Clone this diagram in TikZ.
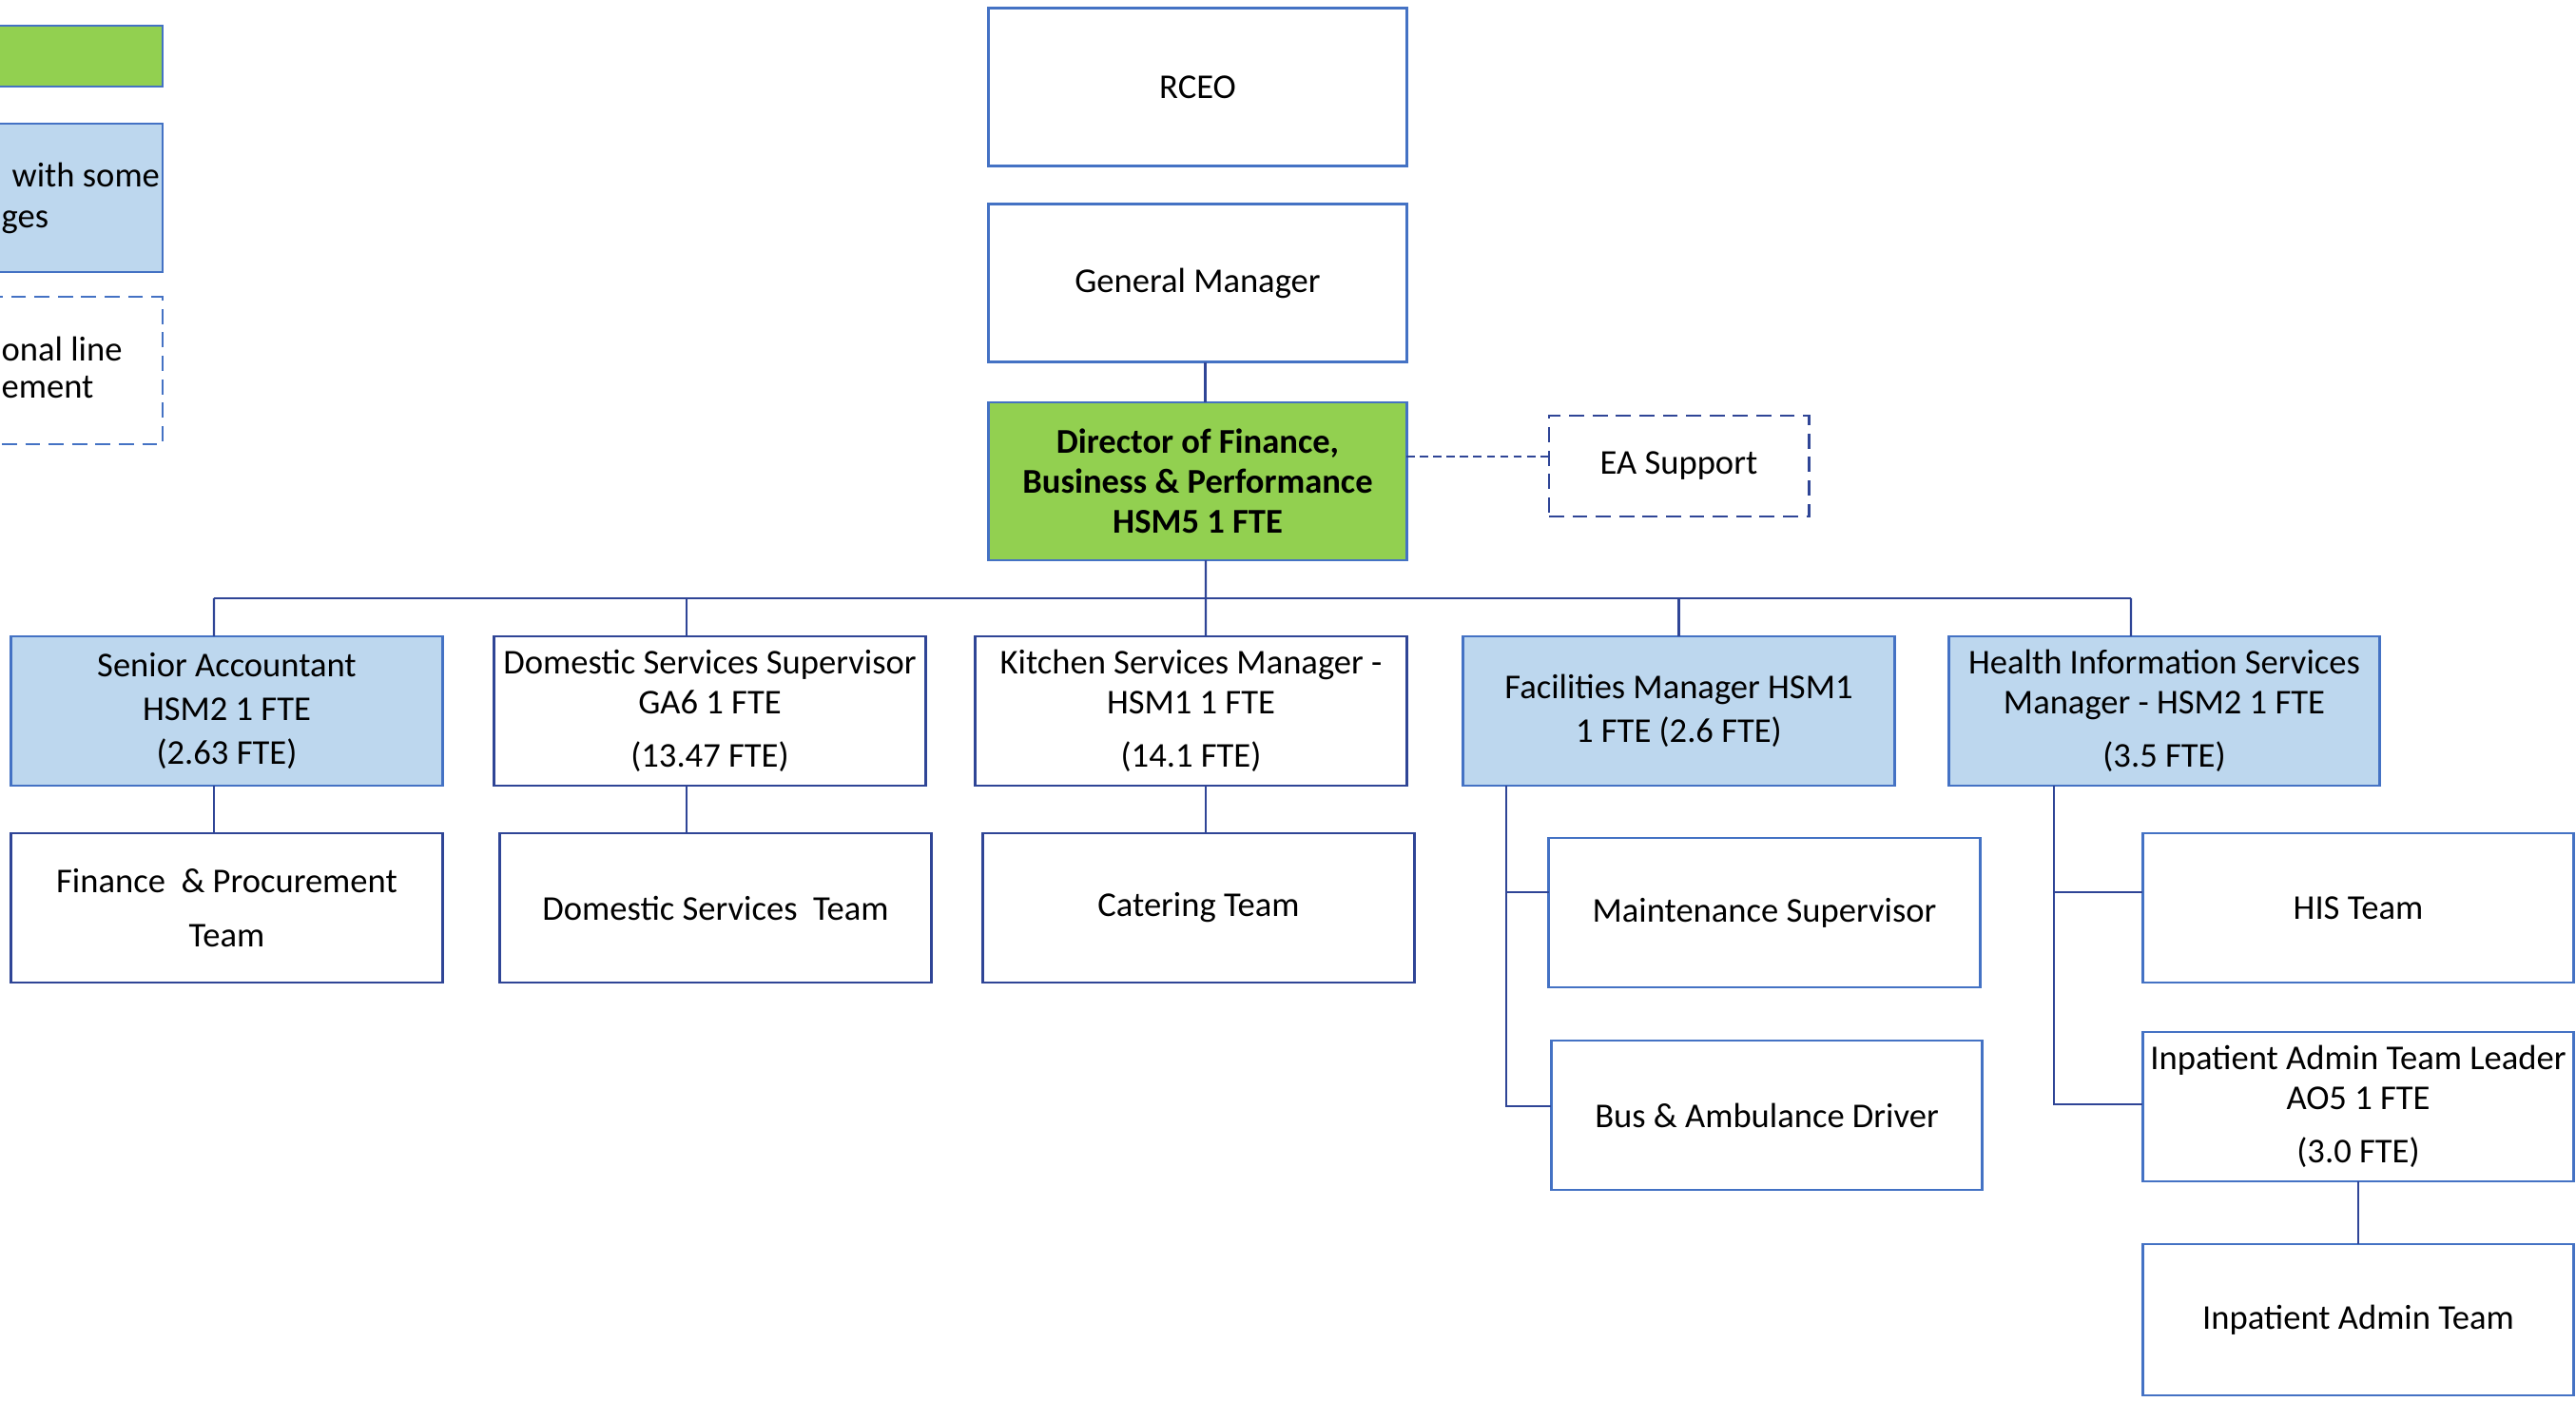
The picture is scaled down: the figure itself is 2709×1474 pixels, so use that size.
\documentclass[tikz,border=0pt]{standalone}
\usepackage{fontspec}
\setmainfont{Carlito}

\definecolor{boxline}{HTML}{4472C4}
\definecolor{navy}{HTML}{2F4596}
\definecolor{lightblue}{HTML}{BDD7EE}
\definecolor{leafgreen}{HTML}{92D050}

\tikzset{
  post/.style={rectangle, draw=boxline, line width=0.8pt, inner sep=0pt, outer sep=0pt,
    minimum width=4.53cm, minimum height=1.57cm, align=center,
    font=\fontsize{10.4}{12}\selectfont},
  changed/.style={post, fill=lightblue},
  navypost/.style={post, draw=navy},
  toppost/.style={post, minimum width=4.39cm, minimum height=1.66cm},
  conn/.style={draw=navy, line width=0.6pt},
  legtext/.style={inner sep=0pt, font=\fontsize{10.4}{12}\selectfont},
}

\begin{document}
\begin{tikzpicture}[x=0.01cm, y=-0.01cm]
\useasboundingbox (0,0) rectangle (2709,1474);
\clip (0,0) rectangle (2709,1474);

% legend
\draw[draw=boxline, fill=leafgreen, line width=0.8pt] (-40,27) rectangle (171,91);
\draw[draw=boxline, fill=lightblue, line width=0.8pt] (-40,130) rectangle (171,286);
\draw[draw=boxline, line width=0.8pt, dash pattern=on 4.5pt off 2.5pt] (-40,312) rectangle (171,467);
\node[legtext, anchor=base west] (legchg) at (12,197) {with some};
\node[legtext, anchor=base west] (legchgb) at (1,240) {ges};
\node[legtext, anchor=base west] (legfn) at (1,380) {onal line};
\node[legtext, anchor=base west] (legfnb) at (1,419) {ement};

% top of the chart
\node[toppost] (rceo) at (1259.5,91.5) {RCEO};
\node[toppost] (gm) at (1259.5,297.5) {General Manager};
\node[toppost, fill=leafgreen, font=\fontsize{10.4}{12}\selectfont\bfseries] (dir) at (1259.5,506)
  {Director of Finance,\\Business \& Performance\\HSM5 1 FTE};
\node[post, draw=navy, dash pattern=on 4.5pt off 2.5pt, minimum width=2.73cm, minimum height=1.06cm]
  (ea) at (1765.5,490) {EA Support};

% managers
\node[changed] (sa) at (238.5,747.5) {Senior Accountant\\[1pt]HSM2 1 FTE\\[1pt](2.63 FTE)};
\node[navypost] (dss) at (746.5,747.5) {Domestic Services Supervisor\\GA6 1 FTE\\[4pt](13.47 FTE)};
\node[navypost] (ksm) at (1252.5,747.5) {Kitchen Services Manager -\\HSM1 1 FTE\\[4pt](14.1 FTE)};
\node[changed] (fm) at (1765.5,747.5) {Facilities Manager HSM1\\[1pt]1 FTE (2.6 FTE)};
\node[changed] (hism) at (2276,747.5) {Health Information Services\\Manager - HSM2 1 FTE\\[4pt](3.5 FTE)};

% teams
\node[navypost] (fpt) at (238.5,954.5) {Finance~ \& Procurement\\[4pt]Team};
\node[navypost] (dst) at (752.5,954.5) {Domestic Services~ Team};
\node[navypost] (cat) at (1260.5,954.5) {Catering Team};
\node[post] (ms) at (1855.5,959.5) {Maintenance Supervisor};
\node[post] (bad) at (1858,1172.5) {Bus \& Ambulance Driver};
\node[post] (hist) at (2480,954.5) {HIS Team};
\node[post] (iatl) at (2480,1163.5) {Inpatient Admin Team Leader\\AO5 1 FTE\\[4pt](3.0 FTE)};
\node[post, minimum height=1.59cm] (iat) at (2480,1387.5) {Inpatient Admin Team};

% connectors
\coordinate (busL) at (225,629);
\coordinate (busR) at (2241,629);
\coordinate (eain) at ([yshift=0.1cm]ea.west);
\draw[conn] (busL) -- (busR);
\draw[conn] ([xshift=0.08cm]gm.south) -- ([xshift=0.08cm]dir.north);
\draw[conn] ([xshift=0.085cm]dir.south) -- ([xshift=0.155cm]ksm.north);
\draw[conn, dash pattern=on 2.5pt off 1.5pt] (dir.east |- eain) -- (eain);
\draw[conn] (busL) -- ([xshift=-0.135cm]sa.north);
\draw[conn] ([xshift=-0.245cm]dss.north |- busL) -- ([xshift=-0.245cm]dss.north);
\draw[conn] (fm.north |- busL) -- (fm.north);
\draw[conn] (busR) -- ([xshift=-0.35cm]hism.north);

\draw[conn] ([xshift=-0.135cm]sa.south) -- ([xshift=-0.135cm]sa.south |- fpt.north);
\draw[conn] ([xshift=-0.245cm]dss.south) -- ([xshift=-0.245cm]dss.south |- dst.north);
\draw[conn] ([xshift=0.155cm]ksm.south) -- ([xshift=0.155cm]ksm.south |- cat.north);

\coordinate (fmdrop) at ([xshift=-1.815cm]fm.south);
\draw[conn] (fmdrop) |- ([yshift=0.215cm]ms.west);
\draw[conn] (fmdrop) |- ([yshift=0.095cm]bad.west);
\coordinate (hisdrop) at ([xshift=-1.16cm]hism.south);
\draw[conn] (hisdrop) |- ([yshift=0.165cm]hist.west);
\draw[conn] (hisdrop) |- ([yshift=0.025cm]iatl.west);
\draw[conn] (iatl.south) -- (iat.north);
\end{tikzpicture}
\end{document}
